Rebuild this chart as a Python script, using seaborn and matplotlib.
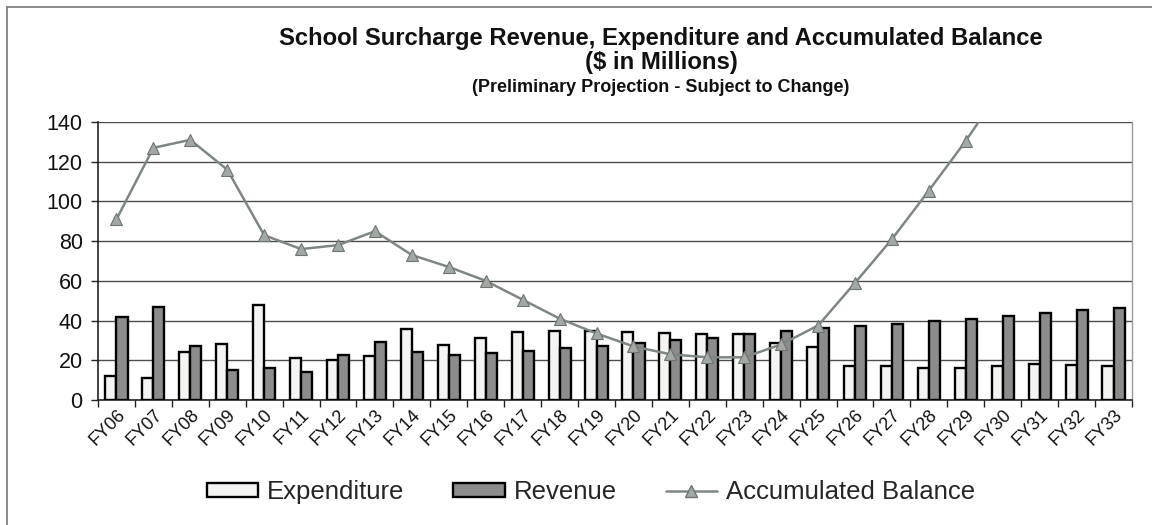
import matplotlib
matplotlib.use("Agg")
import matplotlib.pyplot as plt
from matplotlib.lines import Line2D
from matplotlib.patches import Patch
from matplotlib.ticker import FixedLocator, MultipleLocator
from matplotlib.transforms import ScaledTranslation
import seaborn as sns
import pandas as pd
import numpy as np

years = ["FY06", "FY07", "FY08", "FY09", "FY10", "FY11", "FY12", "FY13", "FY14", "FY15",
         "FY16", "FY17", "FY18", "FY19", "FY20", "FY21", "FY22", "FY23", "FY24", "FY25",
         "FY26", "FY27", "FY28", "FY29", "FY30", "FY31", "FY32", "FY33"]
expenditure = [12, 11, 24, 28, 48, 21, 20, 22, 36, 27.5,
               31, 34, 35, 34.5, 34, 33.5, 33, 33, 28.5, 26.5,
               17, 17, 16, 16, 17, 18, 17.5, 17]
revenue = [42, 47, 27, 15, 16, 14, 22.5, 29, 24, 22.5,
           23.5, 24.5, 26, 27, 28.5, 30, 31, 33, 35, 36.5,
           37.5, 38.5, 40, 41, 42.5, 44, 45.5, 46.5]
balance = [91, 127, 131, 116, 83, 76, 78, 85, 73, 67,
           60, 50.5, 41, 33.5, 27, 23, 21.5, 21.5, 28, 37.5,
           59, 81, 105.5, 130.5, 158, 186, 214, 242]

series_names = ["Expenditure", "Revenue", "Accumulated Balance"]
title_lines = ["School Surcharge Revenue, Expenditure and Accumulated Balance",
               "($ in Millions)",
               "(Preliminary Projection - Subject to Change)"]

sns.set_theme(style="white")
plt.rcParams["font.family"] = ["Liberation Sans", "DejaVu Sans"]

df = pd.DataFrame({
    "year": years * 2,
    "value": expenditure + revenue,
    "series": [series_names[0]] * len(years) + [series_names[1]] * len(years),
})

exp_color = "#f4f4f2"
rev_color = "#8c8c8c"
line_color = "#7f8783"
marker_color = "#a2a9a4"

fig = plt.figure(figsize=(11.52, 5.25), dpi=100)
ax = fig.add_axes([98 / 1152, 1 - 400 / 525, (1132 - 98) / 1152, (400 - 122) / 525])

sns.barplot(data=df, x="year", y="value", hue="series", order=years,
            hue_order=series_names[:2], palette=[exp_color, rev_color],
            width=0.6, edgecolor="black", linewidth=1.7, saturation=1,
            legend=False, ax=ax, zorder=3)

sns.pointplot(x=years, y=balance, order=years, color=line_color, markers="^",
              markersize=9, linewidth=1.8, markeredgecolor="#6e7570",
              markerfacecolor=marker_color, markeredgewidth=0.8, ax=ax, zorder=4)

ax.set_ylim(0, 140)
ax.set_xlim(-0.5, len(years) - 0.5)
ax.yaxis.set_major_locator(MultipleLocator(20))
ax.grid(axis="y", color="#4d4d4d", linewidth=1.0, zorder=0)
ax.set_axisbelow(True)
ax.set_xlabel("")
ax.set_ylabel("")

for s in ["left", "bottom"]:
    ax.spines[s].set_visible(True)
    ax.spines[s].set_color("#222222")
    ax.spines[s].set_linewidth(1.2)
ax.spines["top"].set_visible(False)
ax.spines["right"].set_visible(True)
ax.spines["right"].set_color("#9a9a9a")
ax.spines["right"].set_linewidth(1.0)

ax.tick_params(axis="y", which="major", direction="out", length=5, width=1,
               color="#222222", labelsize=15.5, pad=6, left=True)
ax.xaxis.set_minor_locator(FixedLocator(np.arange(-0.5, len(years), 1.0)))
ax.tick_params(axis="x", which="minor", direction="out", length=5, width=1,
               color="#222222", bottom=True)
ax.tick_params(axis="x", which="major", length=0, pad=9, labelsize=13)
offset = ScaledTranslation(6 / 100, 0, fig.dpi_scale_trans)
for lab in ax.get_xticklabels():
    lab.set_rotation(45)
    lab.set_ha("right")
    lab.set_va("center")
    lab.set_rotation_mode("anchor")
    lab.set_transform(lab.get_transform() + offset)
for lab in ax.get_yticklabels() + ax.get_xticklabels():
    lab.set_color("#111111")

fig.text(661 / 1152, 1 - 38 / 525, title_lines[0], ha="center", va="center",
         fontsize=17.2, fontweight="bold", color="#111111")
fig.text(661 / 1152, 1 - 62 / 525, title_lines[1], ha="center", va="center",
         fontsize=17.2, fontweight="bold", color="#111111")
fig.text(661 / 1152, 1 - 87 / 525, title_lines[2], ha="center", va="center",
         fontsize=13, fontweight="bold", color="#111111")

handles = [
    Patch(facecolor=exp_color, edgecolor="black", linewidth=1.7),
    Patch(facecolor=rev_color, edgecolor="black", linewidth=1.7),
    Line2D([0], [0], color=line_color, linewidth=1.8, marker="^", markersize=9,
           markerfacecolor=marker_color, markeredgecolor="#6e7570"),
]
fig.legend(handles, series_names, loc="center", bbox_to_anchor=(591 / 1152, 1 - 492 / 525),
           ncol=3, frameon=False, fontsize=18.5, handlelength=2.0, handleheight=0.45,
           handletextpad=0.35, columnspacing=1.9)

# outer frame of the exhibit
fig.add_artist(Line2D([7 / 1152, 7 / 1152], [0, 1 - 7 / 525], transform=fig.transFigure,
                      color="#777777", linewidth=1.2))
fig.add_artist(Line2D([7 / 1152, 1], [1 - 7 / 525, 1 - 7 / 525], transform=fig.transFigure,
                      color="#777777", linewidth=1.2))

fig.savefig("out.png", dpi=100, facecolor="white")
